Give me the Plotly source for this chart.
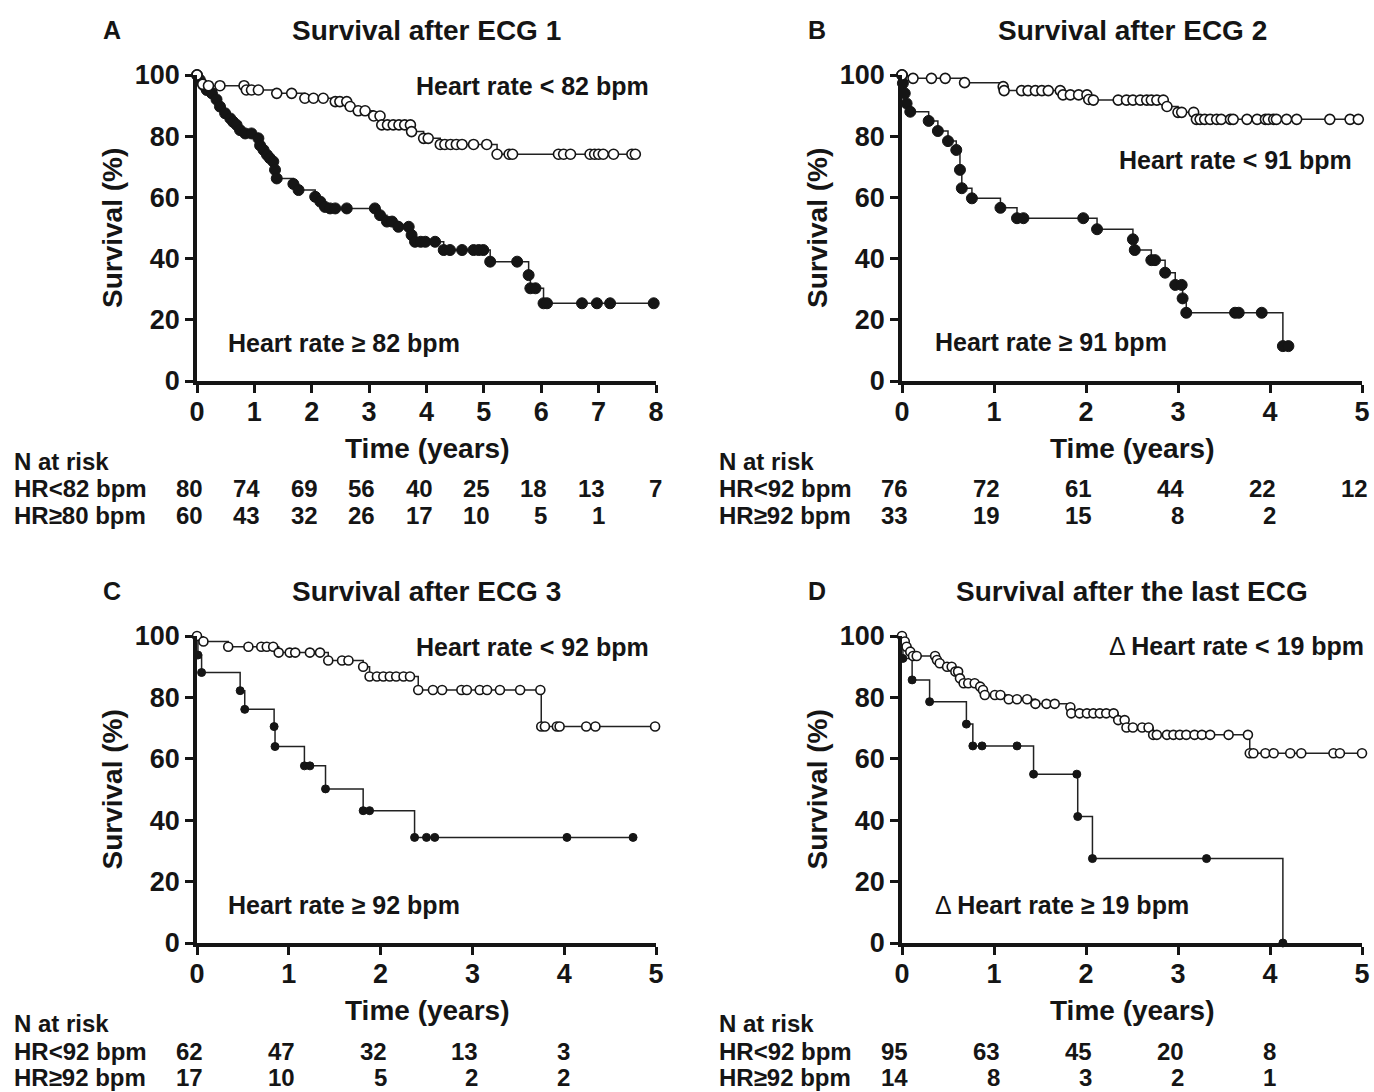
import plotly.graph_objects as go

W, H = 1374, 1092
FONT = "Liberation Sans, Arial, Helvetica, sans-serif"
INK = "#151515"

# ---------------- Data (years, survival %) ----------------
# Panel A: Survival after ECG 1
a_low_t = [0, 0.1, 0.2, 0.4, 0.82, 0.86, 0.95, 1.07, 1.39, 1.65, 1.88, 2.03, 2.2, 2.41, 2.49, 2.61,
           2.67, 2.81, 2.93, 3.08, 3.19, 3.22, 3.32, 3.42, 3.52, 3.62, 3.72, 3.74, 3.95, 4.03, 4.24,
           4.32, 4.42, 4.52, 4.62, 4.82, 5.05, 5.23, 5.44, 5.5, 6.3, 6.39, 6.51, 6.85, 6.93, 7.0,
           7.08, 7.26, 7.58, 7.64]
a_low_s = [100, 97, 96.5, 96.5, 96.5, 95.1, 95.1, 95.1, 94.0, 94.0, 92.4, 92.4, 92.4, 91.3, 91.3, 91.3,
           89.7, 88.3, 88.3, 86.6, 86.6, 83.7, 83.7, 83.7, 83.7, 83.7, 83.7, 81.5, 79.3, 79.3, 77.3,
           77.3, 77.3, 77.3, 77.3, 77.3, 77.3, 74.1, 74.1, 74.1, 74.1, 74.1, 74.1, 74.1, 74.1, 74.1,
           74.1, 74.1, 74.1, 74.1]
a_high_t = [0, 0.05, 0.11, 0.17, 0.26, 0.34, 0.40, 0.49, 0.58, 0.63, 0.69, 0.75, 0.84, 0.95, 1.07,
            1.10, 1.16, 1.22, 1.27, 1.33, 1.36, 1.39, 1.68, 1.77, 2.06, 2.15, 2.23, 2.32, 2.41, 2.61,
            3.10, 3.19, 3.31, 3.40, 3.51, 3.69, 3.74, 3.80, 3.90, 3.98, 4.15, 4.30, 4.41, 4.62, 4.82,
            4.91, 4.99, 5.11, 5.58, 5.78, 5.81, 5.90, 6.04, 6.10, 6.71, 6.97, 7.20, 7.96]
a_high_s = [100, 98.4, 96.7, 95.1, 94, 92, 89.7, 87.5, 85.8, 84.7, 83.7, 82, 80.9, 80.9, 79.3,
            77, 75.5, 73.9, 72.8, 71.7, 69, 66.2, 64.4, 62.4, 60.2, 58.6, 56.9, 56.4, 56.4, 56.4,
            56.4, 54.2, 52.1, 52.1, 50.4, 50.4, 47.7, 45.5, 45.5, 45.5, 45.5, 42.8, 42.8, 42.8, 42.8,
            42.8, 42.8, 39.0, 39.0, 34.6, 30.3, 30.3, 25.4, 25.4, 25.4, 25.4, 25.4, 25.4]

# Panel B: Survival after ECG 2
b_low_t = [0, 0.12, 0.32, 0.47, 0.68, 1.10, 1.11, 1.30, 1.37, 1.45, 1.52, 1.59, 1.72, 1.75, 1.83,
           1.92, 2.01, 2.03, 2.08, 2.35, 2.44, 2.51, 2.59, 2.66, 2.71, 2.77, 2.84, 2.88, 3.00, 3.04,
           3.17, 3.20, 3.24, 3.29, 3.35, 3.42, 3.47, 3.57, 3.60, 3.75, 3.86, 3.95, 3.98, 4.04, 4.07,
           4.18, 4.29, 4.65, 4.87, 4.96]
b_low_s = [100, 98.9, 98.9, 98.9, 97.5, 96.2, 94.9, 94.9, 94.9, 94.9, 94.9, 94.9, 94.9, 93.5, 93.5,
           93.5, 93.5, 92.0, 91.8, 91.8, 91.8, 91.8, 91.8, 91.8, 91.8, 91.8, 91.8, 89.7, 87.8, 87.8,
           87.8, 85.5, 85.5, 85.5, 85.5, 85.5, 85.5, 85.5, 85.5, 85.5, 85.5, 85.5, 85.5, 85.5, 85.5,
           85.5, 85.5, 85.5, 85.5, 85.5]
b_high_t = [0, 0.01, 0.03, 0.05, 0.09, 0.29, 0.39, 0.50, 0.59, 0.63, 0.65, 0.76, 1.07, 1.25, 1.32,
            1.97, 2.12, 2.51, 2.53, 2.71, 2.75, 2.86, 2.97, 3.04, 3.05, 3.09, 3.62, 3.66, 3.91, 4.14,
            4.20]
b_high_s = [100, 97.3, 94, 90.7, 88, 85, 81.7, 78.4, 75.5, 69, 63, 59.7, 56.6, 53.2, 53.2,
            53.2, 49.6, 46.3, 42.8, 39.5, 39.5, 35.4, 31.4, 31.4, 27, 22.3, 22.3, 22.3, 22.3, 11.4,
            11.4]

# Panel C: Survival after ECG 3
c_low_t = [0, 0.07, 0.34, 0.56, 0.70, 0.76, 0.83, 0.89, 1.01, 1.07, 1.23, 1.34, 1.43, 1.58, 1.65,
           1.81, 1.88, 1.96, 2.03, 2.10, 2.17, 2.25, 2.32, 2.41, 2.57, 2.67, 2.88, 2.94, 3.08, 3.16,
           3.30, 3.52, 3.74, 3.75, 3.79, 3.92, 3.95, 4.24, 4.34, 4.99]
c_low_s = [100, 98.2, 96.5, 96.5, 96.5, 96.5, 96.5, 94.6, 94.6, 94.6, 94.6, 94.6, 92.0, 92.0, 92.0,
           90.0, 86.8, 86.8, 86.8, 86.8, 86.8, 86.8, 86.8, 82.4, 82.4, 82.4, 82.4, 82.4, 82.4, 82.4,
           82.4, 82.4, 82.4, 70.5, 70.5, 70.5, 70.5, 70.5, 70.5, 70.5]
c_high_t = [0, 0.01, 0.05, 0.47, 0.52, 0.84, 0.85, 1.17, 1.23, 1.40, 1.81, 1.88, 2.37, 2.50, 2.59,
            4.03, 4.75]
c_high_s = [100, 93.8, 88.1, 82.2, 76.1, 70.5, 64.0, 57.7, 57.7, 50.2, 43.1, 43.1, 34.4, 34.4, 34.4,
            34.4, 34.4]

# Panel D: Survival after the last ECG
d_low_t = [0, 0.03, 0.05, 0.09, 0.12, 0.16, 0.36, 0.38, 0.41, 0.49, 0.54, 0.58, 0.61, 0.63, 0.67,
           0.72, 0.79, 0.85, 0.88, 0.90, 1.01, 1.07, 1.16, 1.25, 1.36, 1.45, 1.57, 1.66, 1.83, 1.84,
           1.93, 2.01, 2.08, 2.15, 2.22, 2.30, 2.35, 2.42, 2.44, 2.51, 2.61, 2.68, 2.73, 2.77, 2.88,
           2.95, 3.02, 3.09, 3.18, 3.26, 3.35, 3.55, 3.76, 3.78, 3.82, 3.95, 4.04, 4.22, 4.34, 4.69,
           4.76, 5.0]
d_low_s = [100, 98.2, 96.5, 94.9, 93.5, 93.5, 93.5, 92.2, 91.1, 90.0, 90.0, 88.4, 88.4, 86.2, 84.6,
           84.6, 84.6, 83.5, 82.4, 80.8, 80.8, 80.8, 79.4, 79.4, 79.4, 77.9, 77.9, 77.9, 76.8, 74.8,
           74.8, 74.8, 74.8, 74.8, 74.8, 74.8, 72.6, 72.6, 70.2, 70.2, 70.2, 70.2, 67.8, 67.8, 67.8,
           67.8, 67.8, 67.8, 67.8, 67.8, 67.8, 67.8, 67.8, 61.8, 61.8, 61.8, 61.8, 61.8, 61.8, 61.8,
           61.8, 61.8]
d_high_t = [0, 0.01, 0.11, 0.30, 0.70, 0.77, 0.87, 1.25, 1.43, 1.90, 1.91, 2.07, 3.31, 4.14]
d_high_s = [100, 92.7, 85.7, 78.6, 71.3, 64.2, 64.2, 64.2, 55.0, 55.0, 41.2, 27.5, 27.5, 0]

# Numbers at risk
a_risk_low = [80, 74, 69, 56, 40, 25, 18, 13, 7]
a_risk_high = [60, 43, 32, 26, 17, 10, 5, 1]
b_risk_low = [76, 72, 61, 44, 22, 12]
b_risk_high = [33, 19, 15, 8, 2]
c_risk_low = [62, 47, 32, 13, 3]
c_risk_high = [17, 10, 5, 2, 2]
d_risk_low = [95, 63, 45, 20, 8]
d_risk_high = [14, 8, 3, 2, 1]

a_row_labels = ["HR&lt;82 bpm", "HR≥80 bpm"]
b_row_labels = ["HR&lt;92 bpm", "HR≥92 bpm"]
c_row_labels = ["HR&lt;92 bpm", "HR≥92 bpm"]
d_row_labels = ["HR&lt;92 bpm", "HR≥92 bpm"]

titles = ["Survival after ECG 1", "Survival after ECG 2", "Survival after ECG 3", "Survival after the last ECG"]
letters = ["A", "B", "C", "D"]
upper_labels = ["Heart rate &lt; 82 bpm", "Heart rate &lt; 91 bpm", "Heart rate &lt; 92 bpm", "Heart rate &lt; 19 bpm"]
lower_labels = ["Heart rate ≥ 82 bpm", "Heart rate ≥ 91 bpm", "Heart rate ≥ 92 bpm", "Heart rate ≥ 19 bpm"]
x_max = [8, 5, 5, 5]

# ---------------- Layout geometry (pixels) ----------------
def px(x):
    return x / W

def py(y):
    return 1 - y / H

panels = [
    dict(x0=197, x1=656, y0=381, y1=75),
    dict(x0=902, x1=1362, y0=381, y1=75),
    dict(x0=197, x1=656, y0=943, y1=636),
    dict(x0=902, x1=1362, y0=943, y1=636),
]

curves = [
    (a_low_t, a_low_s, a_high_t, a_high_s),
    (b_low_t, b_low_s, b_high_t, b_high_s),
    (c_low_t, c_low_s, c_high_t, c_high_s),
    (d_low_t, d_low_s, d_high_t, d_high_s),
]
marker_sizes = [(10, 11), (10, 11), (9, 8), (9, 8)]
risks = [(a_risk_low, a_risk_high), (b_risk_low, b_risk_high),
         (c_risk_low, c_risk_high), (d_risk_low, d_risk_high)]
row_labels = [a_row_labels, b_row_labels, c_row_labels, d_row_labels]

fig = go.Figure()
layout = dict(
    template="none",
    width=W, height=H, autosize=False,
    margin=dict(l=0, r=0, t=0, b=0, pad=0, autoexpand=False),
    paper_bgcolor="white", plot_bgcolor="white",
    showlegend=False,
    font=dict(family=FONT, color=INK),
)
annotations = []

for i, p in enumerate(panels):
    xa = "xaxis" if i == 0 else f"xaxis{i+1}"
    ya = "yaxis" if i == 0 else f"yaxis{i+1}"
    xr = "x" if i == 0 else f"x{i+1}"
    yr = "y" if i == 0 else f"y{i+1}"
    layout[xa] = dict(
        domain=[px(p["x0"]), px(p["x1"])], range=[0, x_max[i]], anchor=yr, automargin=False,
        showline=True, linewidth=3.5, linecolor=INK, ticks="outside", ticklen=8,
        tickwidth=3, tickcolor=INK, showgrid=False, zeroline=False, dtick=1, tick0=0,
        ticklabelstandoff=-4,
        tickfont=dict(family=FONT, size=27, color=INK, weight="bold"),
    )
    layout[ya] = dict(
        domain=[py(p["y0"]), py(p["y1"])], range=[0, 100], anchor=xr, automargin=False,
        showline=True, linewidth=3.5, linecolor=INK, ticks="outside", ticklen=8,
        tickwidth=3, tickcolor=INK, showgrid=False, zeroline=False, dtick=20, tick0=0,
        tickfont=dict(family=FONT, size=27, color=INK, weight="bold"),
    )
    lt, ls, ht, hs = curves[i]
    so, sf = marker_sizes[i]
    fig.add_trace(go.Scatter(
        x=ht, y=hs, xaxis=xr, yaxis=yr, mode="lines+markers", cliponaxis=False,
        line=dict(shape="hv", color="#222222", width=1.5),
        marker=dict(symbol="circle", size=sf, color=INK, line=dict(color=INK, width=1)),
    ))
    fig.add_trace(go.Scatter(
        x=lt, y=ls, xaxis=xr, yaxis=yr, mode="lines+markers", cliponaxis=False,
        line=dict(shape="hv", color="#222222", width=1.5),
        marker=dict(symbol="circle", size=so, color="white", line=dict(color=INK, width=1.6)),
    ))

    cx = (p["x0"] + p["x1"]) / 2
    top = p["y1"]
    bot = p["y0"]
    # panel title and letter
    annotations.append(dict(x=px(cx), y=py(top - 45), xref="paper", yref="paper", text=titles[i],
                            showarrow=False, xanchor="center", yanchor="middle",
                            font=dict(size=28, weight="bold", color=INK)))
    annotations.append(dict(x=px(p["x0"] - 85), y=py(top - 45), xref="paper", yref="paper", text=letters[i],
                            showarrow=False, xanchor="center", yanchor="middle",
                            font=dict(size=25, weight="bold", color=INK)))
    # axis titles
    annotations.append(dict(x=px(p["x0"] - 85), y=py((top + bot) / 2), xref="paper", yref="paper",
                            text="Survival (%)", textangle=-90, showarrow=False,
                            xanchor="center", yanchor="middle",
                            font=dict(size=28, weight="bold", color=INK)))
    annotations.append(dict(x=px(cx), y=py(bot + 67), xref="paper", yref="paper",
                            text="Time (years)", showarrow=False, xanchor="center", yanchor="middle",
                            font=dict(size=28, weight="bold", color=INK)))
    # group labels
    delta = i == 3
    upos = [(651, 86), (1354, 160), (651, 647), (1366, 646)][i]
    lpos = [(226, 343), (933, 342), (226, 905), (933, 905)][i]
    up_text = ("Δ <b>" + upper_labels[i] + "</b>") if delta else "<b>" + upper_labels[i] + "</b>"
    lo_text = ("Δ <b>" + lower_labels[i] + "</b>") if delta else "<b>" + lower_labels[i] + "</b>"
    annotations.append(dict(x=px(upos[0]), y=py(upos[1]), xref="paper", yref="paper", text=up_text,
                            showarrow=False, xanchor="right", yanchor="middle",
                            font=dict(size=25, color=INK)))
    annotations.append(dict(x=px(lpos[0]), y=py(lpos[1]), xref="paper", yref="paper", text=lo_text,
                            showarrow=False, xanchor="left", yanchor="middle",
                            font=dict(size=25, color=INK)))
    # N at risk table
    lx = p["x0"] - 185
    annotations.append(dict(x=px(lx), y=py(bot + 80), xref="paper", yref="paper", text="N at risk",
                            showarrow=False, xanchor="left", yanchor="middle",
                            font=dict(size=24, weight="bold", color=INK)))
    for r, vals in enumerate(risks[i]):
        yy = py(bot + 108 + 26 * r)
        annotations.append(dict(x=px(lx), y=yy, xref="paper", yref="paper", text=row_labels[i][r],
                                showarrow=False, xanchor="left", yanchor="middle",
                                font=dict(size=24, weight="bold", color=INK)))
        for k, v in enumerate(vals):
            annotations.append(dict(x=k, y=yy, xref=xr, yref="paper", text=str(v),
                                    showarrow=False, xanchor="right", yanchor="middle", xshift=8,
                                    font=dict(size=24, weight="bold", color=INK)))

layout["annotations"] = annotations
fig.update_layout(**layout)
fig.write_html(
    "out.html",
    config={"displayModeBar": False},
    post_script="document.body.style.margin='0';document.body.style.overflow='hidden';",
)
